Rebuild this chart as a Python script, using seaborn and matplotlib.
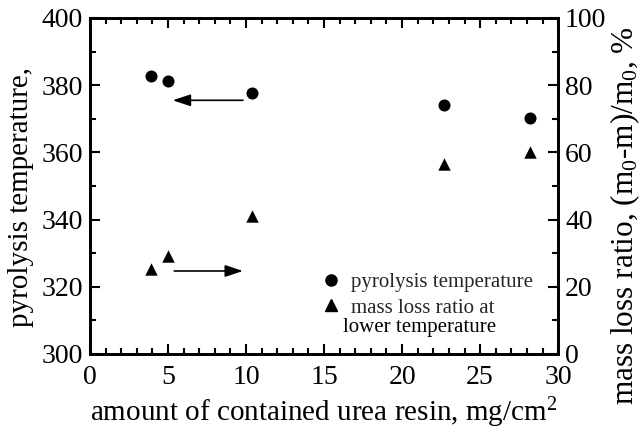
import matplotlib
matplotlib.use("Agg")
import matplotlib.pyplot as plt
from matplotlib.lines import Line2D
from matplotlib.ticker import MultipleLocator
import seaborn as sns
import pandas as pd

sns.set_theme(style="white")
plt.rcParams["font.family"] = ["Liberation Serif", "DejaVu Serif"]
plt.rcParams["mathtext.fontset"] = "custom"
plt.rcParams["mathtext.rm"] = "Liberation Serif"
plt.rcParams["mathtext.it"] = "Liberation Serif:italic"

# urea resin content, mg/cm^2
resin = [3.9, 5.0, 10.4, 22.7, 28.2]
# pyrolysis temperature (left axis)
pyro_temp = [382.6, 381.2, 377.7, 374.1, 370.2]
# mass loss ratio at lower temperature, % (right axis)
mass_loss = [25.2, 29.3, 41.0, 56.6, 60.0]

df = pd.DataFrame({"resin": resin, "temp": pyro_temp, "loss": mass_loss})

fig = plt.figure(figsize=(6.43, 4.32), dpi=100)
ax = fig.add_axes([0.14, 0.1806, 0.728, 0.7778])
ax2 = ax.twinx()

sns.scatterplot(data=df, x="resin", y="temp", ax=ax, marker="o", s=75,
                color="black", edgecolor="black", linewidth=0)
sns.scatterplot(data=df, x="resin", y="loss", ax=ax2, marker="^", s=80,
                color="black", edgecolor="black", linewidth=0)

ax.set_xlim(0, 30)
ax.set_ylim(300, 400)
ax2.set_ylim(0, 100)

ax.xaxis.set_major_locator(MultipleLocator(5))
ax.xaxis.set_minor_locator(MultipleLocator(1))
ax.yaxis.set_major_locator(MultipleLocator(20))
ax.yaxis.set_minor_locator(MultipleLocator(10))
ax2.yaxis.set_major_locator(MultipleLocator(20))
ax2.yaxis.set_minor_locator(MultipleLocator(10))

for a in (ax, ax2):
    for sp in a.spines.values():
        sp.set_linewidth(2.0)
        sp.set_color("black")
    a.set_xlabel("")
    a.set_ylabel("")

ax.tick_params(which="both", direction="in", top=True, bottom=True, left=True,
               right=False, width=1.5, colors="black", labelsize=20, pad=5)
ax.tick_params(axis="x", which="both", pad=8)
ax.tick_params(which="major", length=7)
ax.tick_params(which="minor", length=4)
ax2.tick_params(which="both", direction="in", right=True, left=False,
                width=1.5, colors="black", labelsize=20, pad=5)
ax2.tick_params(which="major", length=7)
ax2.tick_params(which="minor", length=4)

# arrows pointing to the axis each series belongs to
ax.annotate("", xy=(5.3, 375.5), xytext=(9.8, 375.5),
            arrowprops=dict(arrowstyle="-|>,head_length=0.9,head_width=0.3",
                            color="black", lw=1.2, shrinkA=0, shrinkB=0))
ax2.annotate("", xy=(9.8, 24.7), xytext=(5.4, 24.7),
             arrowprops=dict(arrowstyle="-|>,head_length=0.9,head_width=0.3",
                             color="black", lw=1.2, shrinkA=0, shrinkB=0))

ax.set_xlabel("amount of contained urea resin, mg/cm$^2$", fontsize=21,
              color="black", labelpad=4)
fig.text(28 / 643, 1 - 327 / 432, "pyrolysis temperature,", rotation=90,
         rotation_mode="anchor", ha="left", va="baseline", fontsize=21,
         color="black")
fig.text(633 / 643, 1 - 216 / 432,
         "mass loss ratio, (m$_0$-m)/m$_0$, %", rotation=90,
         rotation_mode="anchor", ha="center", va="baseline", fontsize=22.5,
         color="black")

handles = [
    Line2D([], [], marker="o", color="black", linestyle="none", markersize=8),
    Line2D([], [], marker="^", color="black", linestyle="none", markersize=8),
]
leg = ax.legend(handles, ["pyrolysis temperature", "mass loss ratio at"],
                loc="upper left", bbox_to_anchor=(0.492, 0.243),
                frameon=False, fontsize=15, handletextpad=0.45,
                handlelength=1.0, labelspacing=0.3, borderaxespad=0,
                borderpad=0)
# second line of the triangle entry, right-aligned under the first line
ax.text(26.0, 307.8, "lower temperature", ha="right", va="center",
        fontsize=15, color="black")

fig.savefig("out.png", dpi=100)
